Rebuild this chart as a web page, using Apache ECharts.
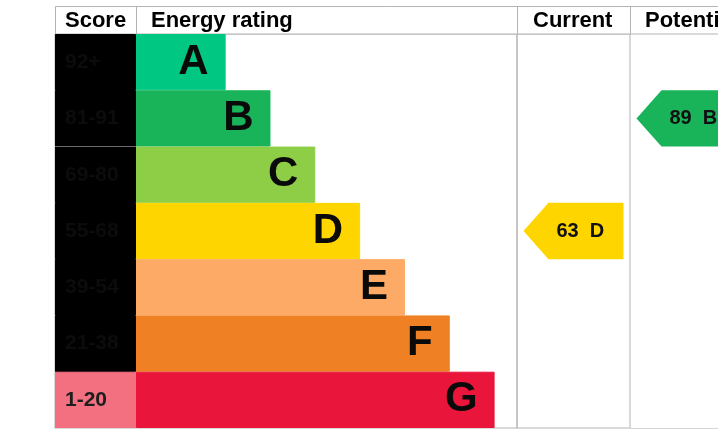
<!DOCTYPE html>
<html lang="en">
<head>
    <meta charset="UTF-8">
    <title>Energy rating</title>
    <script src="https://cdn.jsdelivr.net/npm/echarts@6/dist/echarts.min.js"></script>
    <style>
        html, body { margin: 0; padding: 0; background: #fff; }
    </style>
</head>
<body>
<div id="main" style="width: 718px;height:438px;"></div>
<script type="text/javascript">
    // bands, top to bottom
    var ratings = ['A', 'B', 'C', 'D', 'E', 'F', 'G'];
    var scoreRanges = ['92+', '81-91', '69-80', '55-68', '39-54', '21-38', '1-20'];
    var bandMin = [92, 81, 69, 55, 39, 21, 1];
    var barLengths = [2, 3, 4, 5, 6, 7, 8];
    var bandColors = ['#00c781', '#19b459', '#8dce46', '#ffd500', '#fcaa65', '#ef8023', '#e9153b'];
    var scoreCellColors = ['#000', '#000', '#000', '#000', '#000', '#000', '#f2707f'];

    var currentScore = 63;
    var potentialScore = 89;

    var FONT = '"Liberation Sans", Arial, sans-serif';
    var lineColor = '#b4b4b4';

    function bandOf(score) {
        for (var i = 0; i < bandMin.length; i++) {
            if (score >= bandMin[i]) return i;
        }
        return bandMin.length - 1;
    }

    var myChart = echarts.init(document.getElementById('main'));

    // arrow pointing left, drawn in the band row of its score
    function arrowItem(params, api) {
        var idx = api.value(1);
        var yc = api.coord([0, idx])[1];
        var h = api.size([0, 1])[1];
        var cs = params.coordSys;
        var tip = cs.x + 6.5;
        var notch = tip + 25;
        var right = tip + 100;
        var band = bandOf(api.value(2));
        return {
            type: 'group',
            children: [{
                type: 'polygon',
                shape: {
                    points: [[tip, yc], [notch, yc - h / 2], [right, yc - h / 2],
                             [right, yc + h / 2], [notch, yc + h / 2]]
                },
                style: { fill: bandColors[band] }
            }, {
                type: 'text',
                x: tip + 33,
                y: yc,
                style: {
                    text: api.value(2) + '  ' + ratings[band],
                    font: 'bold 20px ' + FONT,
                    fill: '#111',
                    textVerticalAlign: 'middle'
                }
            }]
        };
    }

    // score cells: the bottom one is pink with dark text, the rest black with near-black text
    var scoreData = scoreRanges.map(function (s, i) {
        var item = {
            value: 1,
            itemStyle: { color: scoreCellColors[i], borderColor: scoreCellColors[i], borderWidth: 1 }
        };
        if (i === 6) item.label = { color: '#1e1e1e' };
        return item;
    });
    var energyData = barLengths.map(function (v, i) {
        return { value: v, itemStyle: { color: bandColors[i], borderColor: bandColors[i], borderWidth: 1 } };
    });

    function yAx(gi) {
        return { type: 'category', gridIndex: gi, data: ratings, inverse: true, show: false };
    }

    var option = {
        backgroundColor: '#fff',
        animation: false,
        grid: [
            { left: 55, width: 81, top: 34, bottom: 10, show: true, backgroundColor: '#000', borderColor: lineColor, borderWidth: 1 },
            { left: 136, width: 381, top: 34, bottom: 10, show: true, borderColor: lineColor, borderWidth: 1 },
            { left: 517, width: 113, top: 34, bottom: 10, show: true, borderColor: lineColor, borderWidth: 1 },
            { left: 630, width: 113, top: 34, bottom: 10, show: false }
        ],
        xAxis: [
            { type: 'value', gridIndex: 0, min: 0, max: 1, show: false },
            { type: 'value', gridIndex: 1, min: 0, max: 8.5, show: false },
            { type: 'value', gridIndex: 2, min: 0, max: 1, show: false },
            { type: 'value', gridIndex: 3, min: 0, max: 1, show: false }
        ],
        yAxis: [yAx(0), yAx(1), yAx(2), yAx(3)],
        graphic: [
            { type: 'rect', shape: { x: 55.5, y: 6.5, width: 700, height: 27.5 },
              style: { fill: '#fff', stroke: lineColor, lineWidth: 1 } },
            { type: 'line', shape: { x1: 136.5, y1: 6, x2: 136.5, y2: 34 }, style: { stroke: lineColor } },
            { type: 'line', shape: { x1: 517.5, y1: 6, x2: 517.5, y2: 34 }, style: { stroke: lineColor } },
            { type: 'line', shape: { x1: 630.5, y1: 6, x2: 630.5, y2: 34 }, style: { stroke: lineColor } },
            { type: 'line', shape: { x1: 630, y1: 428.5, x2: 718, y2: 428.5 }, style: { stroke: '#d4d4d4' } },
            { type: 'text', x: 65, y: 21, style: { text: 'Score', font: 'bold 22px ' + FONT, fill: '#000', textVerticalAlign: 'middle' } },
            { type: 'text', x: 151, y: 21, style: { text: 'Energy rating', font: 'bold 22px ' + FONT, fill: '#000', textVerticalAlign: 'middle' } },
            { type: 'text', x: 533, y: 21, style: { text: 'Current', font: 'bold 22px ' + FONT, fill: '#000', textVerticalAlign: 'middle' } },
            { type: 'text', x: 645, y: 21, style: { text: 'Potential', font: 'bold 22px ' + FONT, fill: '#000', textVerticalAlign: 'middle' } },
            { type: 'line', z: 100, shape: { x1: 55, y1: 146.5, x2: 136, y2: 146.5 }, style: { stroke: '#6a6a6a', lineWidth: 1 } }
        ],
        series: [
            {
                type: 'bar',
                xAxisIndex: 0,
                yAxisIndex: 0,
                barWidth: '100%',
                data: scoreData,
                label: {
                    show: true,
                    position: 'insideLeft',
                    distance: 10,
                    color: '#0c0c0c',
                    textBorderWidth: 0,
                    fontFamily: FONT,
                    fontWeight: 'bold',
                    fontSize: 21,
                    formatter: function (p) { return scoreRanges[p.dataIndex]; }
                }
            },
            {
                type: 'bar',
                xAxisIndex: 1,
                yAxisIndex: 1,
                barWidth: '100%',
                data: energyData,
                label: {
                    show: true,
                    position: 'insideRight',
                    distance: 17,
                    color: '#0a0a0a',
                    textBorderWidth: 0,
                    fontFamily: FONT,
                    fontWeight: 'bold',
                    fontSize: 42,
                    formatter: function (p) { return ratings[p.dataIndex]; }
                }
            },
            {
                type: 'custom',
                xAxisIndex: 2,
                yAxisIndex: 2,
                renderItem: arrowItem,
                data: [[0, bandOf(currentScore), currentScore]]
            },
            {
                type: 'custom',
                xAxisIndex: 3,
                yAxisIndex: 3,
                renderItem: arrowItem,
                data: [[0, bandOf(potentialScore), potentialScore]]
            }
        ]
    };

    myChart.setOption(option);
</script>
</body>
</html>
